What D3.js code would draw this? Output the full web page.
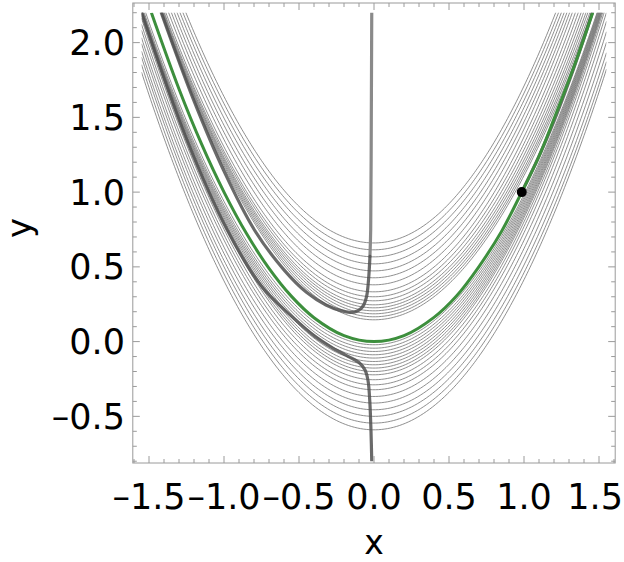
<!DOCTYPE html>
<html>
<head>
<meta charset="utf-8">
<script src="https://cdn.jsdelivr.net/npm/d3@7"></script>
<style>
  html, body { margin: 0; padding: 0; background: #fff; }
  svg { display: block; font-family: "DejaVu Sans", sans-serif; }
</style>
</head>
<body>
<svg id="chart" width="624" height="562"></svg>
<script>
// ---- data -------------------------------------------------------------
// Thin family: each curve is y = x^2 + shift(x); the shift is given at x = 0
// and at the left / right ends of the plotted range.
const levelAtZero = [0.66, 0.614, 0.567, 0.52, 0.473, 0.427, 0.38, 0.333, 0.30, 0.273,
  0.246, 0.226, 0.206, 0.186, 0.166, 0.146,
  -0.021, -0.044, -0.066, -0.088, -0.11, -0.133, -0.155, -0.177, -0.2, -0.222,
  -0.255, -0.289, -0.322, -0.367, -0.411, -0.456, -0.5, -0.545, -0.59];
const shiftLeft = [0.61, 0.56, 0.51, 0.46, 0.41, 0.36, 0.31, 0.26, 0.235, 0.225,
  0.215, 0.21, 0.205, 0.2, 0.195, 0.19,
  -0.12, -0.15, -0.165, -0.175, -0.18, -0.185, -0.19, -0.195, -0.2, -0.21,
  -0.24, -0.28, -0.32, -0.37, -0.41, -0.46, -0.5, -0.55, -0.6];
const shiftRight = [0.78, 0.73, 0.68, 0.63, 0.58, 0.53, 0.48, 0.42, 0.36, 0.3,
  0.25, 0.2, 0.16, 0.12, 0.09, 0.06,
  -0.01, -0.02, -0.03, -0.04, -0.05, -0.06, -0.07, -0.08, -0.09, -0.1,
  -0.12, -0.15, -0.2, -0.26, -0.33, -0.4, -0.47, -0.53, -0.58];

// Green reference curve
const greenCurve = [[-1.484, 2.2], [-1.3, 1.69], [-1.15, 1.3225], [-1.0, 1.0],
  [-0.85, 0.7225], [-0.7, 0.49], [-0.55, 0.3025], [-0.4, 0.16], [-0.2, 0.04],
  [0, 0], [0.2, 0.04], [0.4, 0.162], [0.55, 0.305], [0.7, 0.502], [0.85, 0.737],
  [0.985, 1.0], [1.1, 1.24], [1.2, 1.49], [1.33, 1.83], [1.458, 2.2]];

// Heavy trajectories
const upperBranch = [[-1.418, 2.2], [-1.2, 1.61], [-1.0, 1.14], [-0.796, 0.745],
  [-0.6, 0.48], [-0.45, 0.33], [-0.32, 0.245], [-0.22, 0.207], [-0.16, 0.196],
  [-0.11, 0.205], [-0.075, 0.235], [-0.05, 0.3], [-0.036, 0.42], [-0.027, 0.57]];
const upperRise = [[-0.027, 0.57], [-0.022, 0.75], [-0.018, 1.5], [-0.015, 2.2]];
const lowerBranch = [[-1.55, 2.2], [-1.25, 1.355], [-0.98, 0.75], [-0.75, 0.37],
  [-0.55, 0.17], [-0.4, 0.04], [-0.28, -0.04], [-0.17, -0.1], [-0.1, -0.14],
  [-0.06, -0.19], [-0.04, -0.26], [-0.028, -0.4], [-0.02, -0.6], [-0.015, -0.8]];
const rightBranch = [[0.985, 1.0], [1.1, 1.24], [1.2, 1.475], [1.3, 1.74], [1.4, 2.03], [1.455, 2.2]];
const startPoint = [0.985, 1.0];

const xMajor = [-1.5, -1.0, -0.5, 0.0, 0.5, 1.0, 1.5];
const yMajor = [-0.5, 0.0, 0.5, 1.0, 1.5, 2.0];
const xRange = [-1.55, 1.55];
const yRange = [-0.8, 2.2];

// ---- layout -----------------------------------------------------------
const W = 624;
const svg = d3.select("#chart");
const x = d3.scaleLinear([-1.608, 1.608], [132.8, 615.2]);
const y = d3.scaleLinear([-0.812, 2.265], [463, 3]);
const fmt = v => (v < 0 ? "\u2013" : "") + Math.abs(v).toFixed(1);

svg.append("defs").append("clipPath").attr("id", "plotClip")
  .append("rect")
  .attr("x", x(xRange[0])).attr("y", y(yRange[1]))
  .attr("width", x(xRange[1]) - x(xRange[0]))
  .attr("height", y(yRange[0]) - y(yRange[1]));

const plot = svg.append("g").attr("clip-path", "url(#plotClip)");
const line = d3.line().x(d => x(d[0])).y(d => y(d[1]));
const smooth = d3.line().x(d => x(d[0])).y(d => y(d[1])).curve(d3.curveCatmullRom.alpha(0.5));

// thin family
const xs = d3.range(xRange[0], xRange[1] + 1e-9, 0.01);
levelAtZero.forEach((c0, i) => {
  const pts = xs.map(v => {
    const side = v < 0 ? shiftLeft[i] : shiftRight[i];
    const t = Math.abs(v) / 1.55;
    return [v, v * v + c0 + (side - c0) * t * t];
  });
  plot.append("path").attr("d", line(pts))
    .attr("fill", "none").attr("stroke", "#727272").attr("stroke-width", 0.8);
});

// heavy gray trajectories
const heavy = (pts, color) => plot.append("path").attr("d", smooth(pts))
  .attr("fill", "none").attr("stroke", color)
  .attr("stroke-width", 3.2).attr("stroke-linejoin", "round").attr("stroke-linecap", "round");
heavy(upperRise, "#8a8a8a");
heavy(upperBranch, "rgba(80,80,80,0.85)");
heavy(lowerBranch, "rgba(80,80,80,0.85)");
heavy(rightBranch, "rgba(70,70,70,0.8)");

// green curve
plot.append("path").attr("d", smooth(greenCurve))
  .attr("fill", "none").attr("stroke", "#3d8f3d").attr("stroke-width", 3);

// starting point
svg.append("circle").attr("cx", x(startPoint[0])).attr("cy", y(startPoint[1]))
  .attr("r", 5).attr("fill", "#000");

// ---- frame & ticks ----------------------------------------------------
const frameColor = "#9a9a9a";
const X0 = x.range()[0], X1 = x.range()[1], Y0 = y.range()[1], Y1 = y.range()[0];
svg.append("rect").attr("x", X0).attr("y", Y0).attr("width", X1 - X0).attr("height", Y1 - Y0)
  .attr("fill", "none").attr("stroke", frameColor).attr("stroke-width", 1);

const ticks = svg.append("g").attr("stroke", frameColor).attr("stroke-width", 1);
const minorX = d3.range(-16, 17).map(k => k / 10);
const minorY = d3.range(-8, 23).map(k => k / 10);
const isMajor = v => Math.abs(v * 2 - Math.round(v * 2)) < 1e-6;
minorX.forEach(v => {
  const L = isMajor(v) ? 7 : 4;
  const px = x(v);
  ticks.append("line").attr("x1", px).attr("x2", px).attr("y1", Y1).attr("y2", Y1 - L);
  ticks.append("line").attr("x1", px).attr("x2", px).attr("y1", Y0).attr("y2", Y0 + L);
});
minorY.forEach(v => {
  const L = isMajor(v) ? 7 : 4;
  const py = y(v);
  ticks.append("line").attr("x1", X0).attr("x2", X0 + L).attr("y1", py).attr("y2", py);
  ticks.append("line").attr("x1", X1).attr("x2", X1 - L).attr("y1", py).attr("y2", py);
});

svg.append("g").selectAll("text").data(xMajor).join("text")
  .attr("x", d => x(d)).attr("y", 509)
  .attr("text-anchor", "middle").attr("font-size", 35).attr("fill", "#000")
  .text(fmt)
  .each(function (d) {
    // keep the outermost label inside the page
    const w = this.getComputedTextLength();
    const cx = x(d);
    if (cx + w / 2 > W - 1) d3.select(this).attr("x", W - 1 - w / 2);
  });
svg.append("g").selectAll("text").data(yMajor).join("text")
  .attr("x", 125).attr("y", d => y(d)).attr("dy", "0.36em")
  .attr("text-anchor", "end").attr("font-size", 35).attr("fill", "#000")
  .text(fmt);

svg.append("text").attr("x", x(0)).attr("y", 554).attr("text-anchor", "middle")
  .attr("font-size", 33).text("x");
svg.append("text").attr("transform", "translate(31,228) rotate(-90)")
  .attr("text-anchor", "middle").attr("font-size", 34).text("y");
</script>
</body>
</html>
